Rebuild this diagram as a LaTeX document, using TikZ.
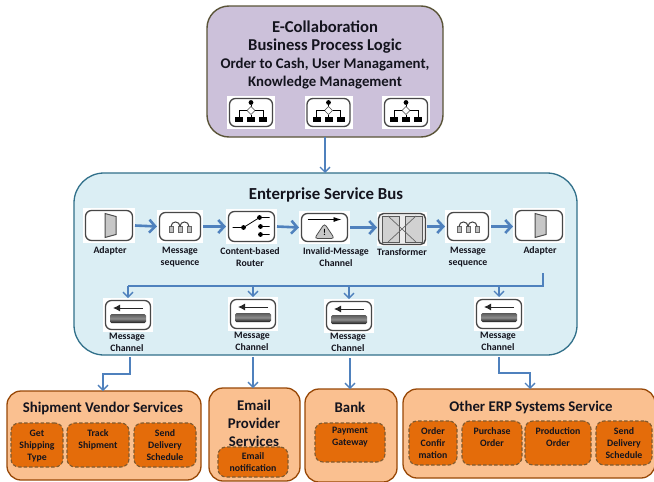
\documentclass[tikz,border=0pt]{standalone}
\usepackage{fontspec}
\setmainfont{Carlito}
\usetikzlibrary{arrows.meta,calc}
\definecolor{flow}{HTML}{4F81BD}
\definecolor{topfill}{HTML}{CCC1DA}
\definecolor{topline}{HTML}{5A5438}
\definecolor{esbfill}{HTML}{DBEEF4}
\definecolor{esbline}{HTML}{31708A}
\definecolor{svcfill}{HTML}{FAC090}
\definecolor{svcline}{HTML}{984807}
\definecolor{opfill}{HTML}{E46C0A}
\definecolor{opline}{HTML}{7F5A30}
\definecolor{ink}{HTML}{14141E}
\tikzset{
  box/.style={draw,rounded corners=#1,inner sep=0pt,outer sep=0pt},
  topbox/.style={box=22pt,fill=topfill,draw=topline,line width=1.4pt},
  esbbox/.style={box=30pt,fill=esbfill,draw=esbline,line width=1.3pt},
  svcbox/.style={box=14pt,fill=svcfill,draw=svcline,line width=1.3pt},
  opbox/.style={box=8pt,fill=opfill,draw=opline,line width=1.1pt,dash pattern=on 3.5pt off 2pt,
    text=ink,align=center,font=\fontsize{9.8}{12}\selectfont\bfseries,text depth=0pt},
  iconbg/.style={fill=white,inner sep=0pt,outer sep=0pt},
  lab/.style={text=ink,align=center,inner sep=0pt,font=\fontsize{9.8}{12}\selectfont\bfseries},
  svctitle/.style={text=ink,align=center,inner sep=0pt,font=\fontsize{14.8}{18}\selectfont\bfseries},
  thin flow/.style={draw=flow,line width=1.4pt,-{Straight Barb[length=5pt,width=10pt,line width=1.4pt]}},
  thick flow/.style={draw=flow,line width=2.6pt,-{Straight Barb[length=6pt,width=13pt,line width=2.6pt]}},
  plain flow/.style={draw=flow,line width=1.4pt}
}
\newcommand{\iconframe}[4]{%
  \node[iconbg,minimum width=#3 pt,minimum height=#4 pt] (#1) at (#2) {};
  \draw[rounded corners=6pt,draw=black!72,line width=1.3pt,fill=white]
    ($(#1.south west)+(2.5pt,2.5pt)$) rectangle ($(#1.north east)+(-2.5pt,-2.5pt)$);
}
\newcommand{\adaptericon}[2]{%
  \iconframe{#1}{#2}{52}{35}
  \begin{scope}[shift={(#2)}]
    \draw[fill=black!22,draw=black!70,line width=1pt] (-4,-12) -- (7,-9) -- (7,9) -- (-4,12) -- cycle;
  \end{scope}}
\newcommand{\seqicon}[2]{%
  \iconframe{#1}{#2}{46}{33}
  \begin{scope}[shift={(#2)}]
    \foreach \x in {-9,0,9}{\draw[fill=black!25,draw=black!60,line width=.5pt] (\x-2,0) rectangle (\x+2,6);}
    \draw[black!75,line width=1pt] (-9,0) .. controls (-9,-6) and (0,-6) .. (0,0);
    \draw[black!75,line width=1pt] (0,0) .. controls (0,-6) and (9,-6) .. (9,0);
  \end{scope}}
\newcommand{\channelicon}[2]{%
  \iconframe{#1}{#2}{50}{34}
  \begin{scope}[shift={(#2)}]
    \draw[line width=1pt,black!85,-{Latex[length=7pt,width=7pt]}] (15,-7) -- (-15,-7);
    \shade[top color=black!65,bottom color=black!90,middle color=black!45,rounded corners=1.5pt] (-18,-1) rectangle (18,8);
  \end{scope}}
\newcommand{\flowicon}[2]{%
  \iconframe{#1}{#2}{48}{33}
  \begin{scope}[shift={(#2)}]
    \fill (0,-10) circle (2.4);
    \draw[black,line width=.7pt] (0,-8) -- (0,-5);
    \draw[black!70,line width=.6pt,fill=white] (0,-6) -- (4,-2) -- (0,2) -- (-4,-2) -- cycle;
    \draw[black,line width=.7pt] (-4,-2) -- (-12,-2) -- (-12,4) (4,-2) -- (12,-2) -- (12,4) (0,2) -- (0,4);
    \foreach \x in {-12,0,12}{\fill (\x-4,4) rectangle (\x+4,9);}
  \end{scope}}
\begin{document}
\begin{tikzpicture}[x=1pt,y=-1pt]
\useasboundingbox (0,0) rectangle (654,482);
\clip (0,0) rectangle (654,482);
\fill[white] (0,0) rectangle (654,482);
% top box
\node[topbox,minimum width=236pt,minimum height=131pt] (top) at (325,71.5) {};
\node[svctitle,font=\fontsize{16.6}{18}\selectfont\bfseries] (t1) at (325,27) {E-Collaboration};
\node[svctitle,font=\fontsize{16.6}{18}\selectfont\bfseries] (t2) at (325,46) {Business Process Logic};
\node[svctitle,font=\fontsize{14.8}{18}\selectfont\bfseries] (t3) at (325,65) {Order to Cash, User Managament,};
\node[svctitle,font=\fontsize{14.8}{18}\selectfont\bfseries] (t4) at (325,83) {Knowledge Management};
\flowicon{p1}{251,112.5}
\flowicon{p2}{328.5,112.5}
\flowicon{p3}{406,112.5}
% ESB
\node[esbbox,minimum width=503pt,minimum height=182pt] (esb) at (325.5,264) {};
\node[svctitle,font=\fontsize{16.8}{18}\selectfont\bfseries] (esbt) at (326,195) {Enterprise Service Bus};
\draw[thin flow] (top.south) -- (esb.north -| top.south);
% first row
\adaptericon{a1}{109,225.5}
\seqicon{s1}{180,226.5}
\iconframe{r}{251.5,226.5}{51}{35}
\begin{scope}[shift={(251.5,226.5)}]
  \draw[line width=.8pt] (-19,1) -- (-8,1) -- (8,-9) -- (18,-9) (9,0) -- (18,0) (9,8) -- (18,8);
  \foreach \p in {(-8,1),(8,-9),(9,0),(9,8)}{\fill \p circle (2.4);}
\end{scope}
\iconframe{inv}{324.5,227.5}{51}{33}
\begin{scope}[shift={(324.5,227.5)}]
  \draw[line width=.8pt,-{Latex[length=8pt,width=5pt]}] (-17,-8) -- (17,-8);
  \draw[fill=black!22,draw=black!70,line width=.8pt,rounded corners=3pt] (0,-4) -- (10,11) -- (-10,11) -- cycle;
  \node[font=\fontsize{9}{9}\selectfont\bfseries,inner sep=0pt] (bang) at (0,5) {!};
\end{scope}
\node[iconbg,minimum width=50pt,minimum height=34pt] (tf) at (402,229) {};
\draw[rounded corners=5pt,draw=black!72,line width=1.4pt,fill=black!8] ($(tf.south west)+(1.5pt,1.5pt)$) rectangle ($(tf.north east)+(-1.5pt,-1.5pt)$);
\begin{scope}[shift={(402,229)}]
  \fill[black!18,draw=black!65,line width=.7pt] (-20,-13) rectangle (-3,13) (3,-13) rectangle (20,13);
  \draw[black!60,line width=.7pt] (-14,-13) -- (14,13) (14,-13) -- (-14,13);
\end{scope}
\seqicon{s2}{468,226.5}
\adaptericon{a2}{539,225.5}
\node[lab] (la1) at (110,251) {Adapter};
\node[lab] (ls1) at (180,257) {Message\\sequence};
\node[lab] (lr) at (250,257) {Content-based\\Router};
\node[lab] (li) at (336,257) {Invalid-Message\\Channel};
\node[lab] (lt) at (402,252) {Transformer};
\node[lab] (ls2) at (468,257) {Message\\sequence};
\node[lab] (la2) at (540,251) {Adapter};
\draw[thick flow] (a1.east) -- (s1.west);
\draw[thick flow] (s1.east) -- (r.west);
\draw[thick flow] (r.east) -- (inv.west);
\draw[thick flow] (inv.east) -- (tf.west |- inv.east);
\draw[thick flow] (tf.east |- s2.west) -- (s2.west);
\draw[thick flow] (s2.east) -- (a2.west |- s2.east);
% message channels
\channelicon{m1}{128,315}
\channelicon{m2}{253,314}
\channelicon{m3}{349,316}
\channelicon{m4}{499,314}
\coordinate (busstart) at (543,273);
\coordinate (busturn) at (543,286);
\draw[plain flow] (busstart) -- (busturn) -- (m1.north |- busturn);
\foreach \m in {m1,m2,m3,m4}{\draw[thin flow] (\m.north |- busturn) -- (\m.north);}
\node[lab] (lm1) at (127,342.5) {Message\\Channel};
\node[lab] (lm2) at (252,341.5) {Message\\Channel};
\node[lab] (lm3) at (348,342.5) {Message\\Channel};
\node[lab] (lm4) at (498,341.5) {Message\\Channel};
% services
\node[svcbox,minimum width=194pt,minimum height=89pt] (ship) at (104,435.5) {};
\node[svcbox,minimum width=91pt,minimum height=93pt] (mail) at (254.5,434.5) {};
\node[svcbox,minimum width=92pt,minimum height=93pt] (bank) at (351,435.5) {};
\node[svcbox,minimum width=252pt,minimum height=89pt] (erp) at (529,433.5) {};
\node[svctitle] (tship) at (103,408) {Shipment Vendor Services};
\node[svctitle] (tmail) at (254,423) {Email\\Provider\\Services};
\node[svctitle] (tbank) at (350,407) {Bank};
\node[svctitle] (terp) at (531,407) {Other ERP Systems Service};
\node[opbox,minimum width=52pt,minimum height=44pt] (o1) at (37,445) {Get\\Shipping\\Type};
\node[opbox,minimum width=62pt,minimum height=44pt] (o2) at (98,445) {Track\\Shipment\\\strut};
\node[opbox,minimum width=62pt,minimum height=44pt] (o3) at (165,445) {Send\\Delivery\\Schedule};
\node[opbox,minimum width=70pt,minimum height=30pt] (o4) at (253,462) {Email\\notification};
\node[opbox,minimum width=70pt,minimum height=39pt] (o5) at (350,442.5) {Payment\\Gateway\\\strut};
\node[opbox,minimum width=48pt,minimum height=44pt] (o6) at (433,443) {Order\\Confir\\mation};
\node[opbox,minimum width=60pt,minimum height=44pt] (o7) at (492,443) {Purchase\\Order\\\strut};
\node[opbox,minimum width=66pt,minimum height=44pt] (o8) at (558,443) {Production\\Order\\\strut};
\node[opbox,minimum width=56pt,minimum height=44pt] (o9) at (624,443) {Send\\Delivery\\Schedule};
% arrows down
\coordinate (d1) at (130,357);
\coordinate (d1t) at (130,374);
\coordinate (d1e) at (103,374);
\draw[thin flow] (d1) -- (d1t) -- (d1e) -- (d1e |- ship.north);
\coordinate (d2) at (253,357);
\draw[thin flow] (d2) -- (d2 |- mail.north);
\coordinate (d3) at (350,358);
\draw[thin flow] (d3) -- (d3 |- bank.north);
\coordinate (d4) at (499,357);
\coordinate (d4t) at (499,373);
\coordinate (d4e) at (530,373);
\draw[thin flow] (d4) -- (d4t) -- (d4e) -- (d4e |- erp.north);
\end{tikzpicture}
\end{document}
